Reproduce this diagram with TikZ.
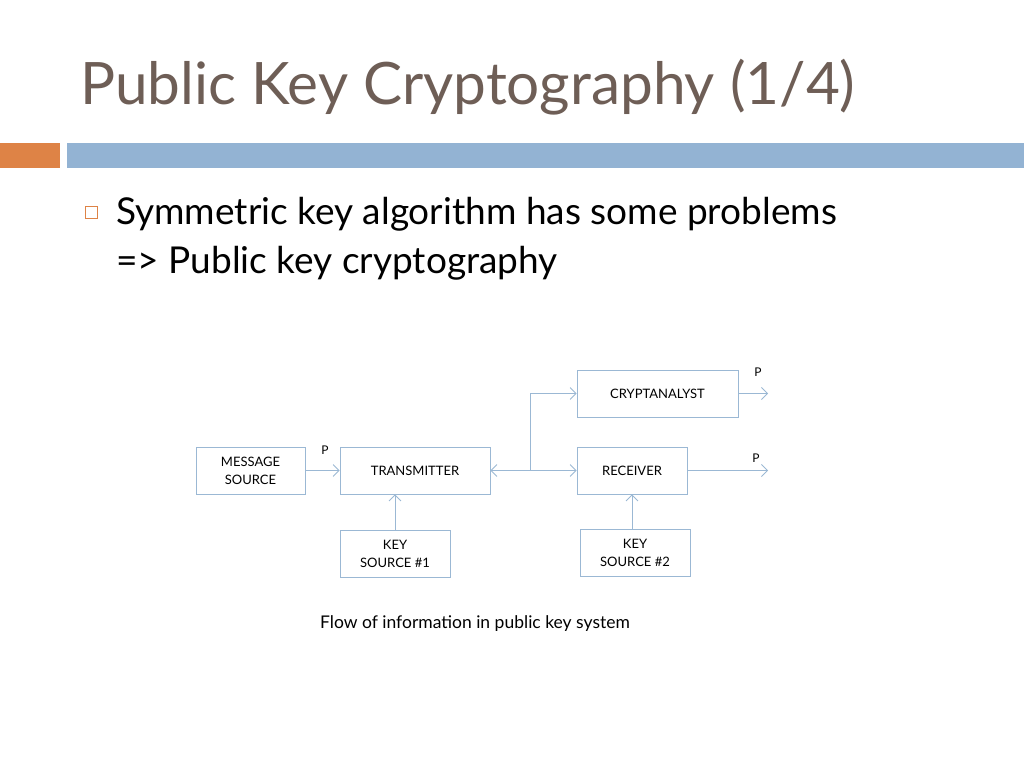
\documentclass[tikz,border=0pt]{standalone}
\usepackage{fontspec}
\setmainfont{Lato}
\usetikzlibrary{arrows.meta}
\definecolor{titlegray}{RGB}{110,94,86}
\definecolor{barorange}{RGB}{222,131,70}
\definecolor{barblue}{RGB}{147,179,211}
\definecolor{boxline}{RGB}{155,184,212}
\tikzset{
  block/.style={draw=boxline,thick,rectangle,minimum height=47pt,
                align=center,font=\fontsize{13}{18}\selectfont,inner sep=2pt},
  flow/.style={boxline,thick,-{Straight Barb[length=6pt,width=12pt]}},
  plabel/.style={font=\fontsize{12}{12}\selectfont},
  bodytext/.style={anchor=base west,font=\fontsize{37}{37}\selectfont,inner sep=0pt}
}
\begin{document}
\begin{tikzpicture}[x=1pt,y=-1pt]
    \useasboundingbox (0,0) rectangle (1024,768);

    % header
    \node[anchor=base west,text=titlegray,font=\fontsize{58.5}{60}\selectfont,inner sep=0pt]
        (title) at (80,104) {Public Key Cryptography (1/4)};
    \fill[barorange] (0,143) rectangle (60,168);
    \fill[barblue] (67,143) rectangle (1024,168);

    % bullet
    \draw[barorange,thick] (85,206) rectangle (97,218);
    \node[bodytext] (line1) at (116,224) {Symmetric key algorithm has some problems};
    \node[bodytext] (line2) at (116,273) {=> Public key cryptography};

    % blocks
    \node[block,minimum width=109pt] (msg) at (250.5,470.5) {MESSAGE\\SOURCE};
    \node[block,minimum width=150pt] (tx) at (415,470.5) {TRANSMITTER};
    \node[block,minimum width=161pt] (crypt) at (657.5,393.5) {CRYPTANALYST};
    \node[block,minimum width=110pt] (rx) at (632,470.5) {RECEIVER};
    \node[block,minimum width=110pt] (key1) at (395,553.5) {KEY\\SOURCE \#1};
    \node[block,minimum width=110pt] (key2) at (635,552.5) {KEY\\SOURCE \#2};

    \coordinate (branch) at (530,470.5);
    \coordinate (cout) at (768,393.5);
    \coordinate (rout) at (768,470.5);

    % connectors
    \draw[flow] (msg) -- (tx);
    \draw[flow] (branch) -- (tx);
    \draw[flow] (branch) -- (rx);
    \draw[flow] (branch) |- (crypt);
    \draw[flow] (crypt) -- (cout);
    \draw[flow] (rx) -- (rout);
    \draw[flow] (key1) -- (tx.south -| key1);
    \draw[flow] (key2.north -| rx) -- (rx);

    % labels
    \node[plabel] (p1) at (325,450) {P};
    \node[plabel] (p2) at (758,372) {P};
    \node[plabel] (p3) at (756,458) {P};

    \node[font=\fontsize{17.5}{18}\selectfont] (caption) at (475,624)
        {Flow of information in public key system};
\end{tikzpicture}
\end{document}
